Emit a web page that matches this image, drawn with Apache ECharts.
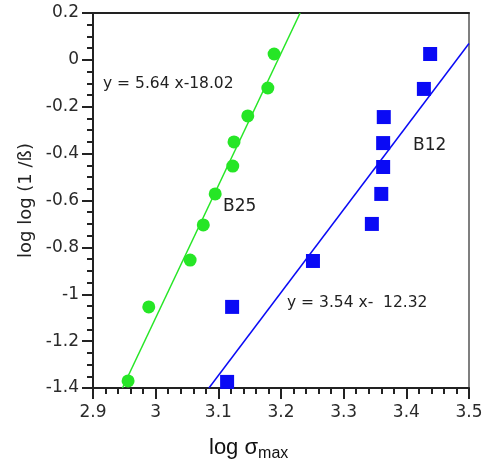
<!DOCTYPE html>
<html>
<head>
<meta charset="utf-8">
<script src="https://cdn.jsdelivr.net/npm/echarts@6/dist/echarts.min.js"></script>
<style>
  html, body { margin: 0; padding: 0; background: #fff; }
  #chart { width: 498px; height: 470px; }
</style>
</head>
<body>
<div id="chart"></div>
<script>
// B25 points (log sigma_max, log log (1/S))
const b25X = [2.956, 2.989, 3.055, 3.076, 3.095, 3.123, 3.125, 3.147, 3.179, 3.189];
const b25Y = [-1.37, -1.054, -0.854, -0.704, -0.572, -0.453, -0.350, -0.239, -0.120, 0.025];
// B12 points
const b12X = [3.114, 3.122, 3.251, 3.345, 3.360, 3.363, 3.363, 3.364, 3.428, 3.438];
const b12Y = [-1.374, -1.054, -0.858, -0.700, -0.572, -0.457, -0.355, -0.244, -0.124, 0.025];
// fitted lines, end points
const b25Fit = [[2.947, -1.4], [3.2305, 0.2]];
const b12Fit = [[3.085, -1.4], [3.5, 0.07]];

const green = '#26e626';
const blue = '#0a0af5';
const font = 'DejaVu Sans';

const zip = (xs, ys) => xs.map((x, i) => [x, ys[i]]);

const chart = echarts.init(document.getElementById('chart'));

const axisLine = { show: true, onZero: false, lineStyle: { color: '#222', width: 2 } };

chart.setOption({
    animation: false,
    backgroundColor: '#fff',
    grid: { left: 93, right: 29, top: 13, bottom: 82, containLabel: false },
    xAxis: [{
        type: 'value', min: 2.9, max: 3.5, interval: 0.1,
        axisLine: axisLine,
        axisTick: { show: true, length: 11, lineStyle: { color: '#222', width: 2 } },
        minorTick: { show: true, splitNumber: 5, length: 6, lineStyle: { color: '#222', width: 2 } },
        axisLabel: { color: '#2a2a2a', fontFamily: font, fontSize: 17, margin: 16 },
        splitLine: { show: false }
    }, {
        type: 'value', position: 'top', min: 2.9, max: 3.5,
        axisLine: axisLine, axisTick: { show: false }, axisLabel: { show: false }, splitLine: { show: false }
    }],
    yAxis: [{
        type: 'value', min: -1.4, max: 0.2, interval: 0.2,
        name: 'log log (1 /ß)', nameLocation: 'middle', nameGap: 57,
        nameTextStyle: { color: '#222', fontFamily: font, fontSize: 18 },
        axisLine: axisLine,
        axisTick: { show: true, length: 11, lineStyle: { color: '#222', width: 2 } },
        minorTick: { show: true, splitNumber: 4, length: 6, lineStyle: { color: '#222', width: 2 } },
        axisLabel: { color: '#2a2a2a', fontFamily: font, fontSize: 17, margin: 14 },
        splitLine: { show: false }
    }, {
        type: 'value', position: 'right', min: -1.4, max: 0.2,
        axisLine: { show: true, onZero: false, lineStyle: { color: '#555', width: 1.5 } },
        axisTick: { show: false }, axisLabel: { show: false }, splitLine: { show: false }
    }],
    series: [
        {
            name: 'B25 fit', type: 'line', data: b25Fit, symbol: 'none',
            lineStyle: { color: green, width: 1.5 }, z: 2
        },
        {
            name: 'B12 fit', type: 'line', data: b12Fit, symbol: 'none',
            lineStyle: { color: blue, width: 1.5 }, z: 2
        },
        {
            name: 'B25', type: 'scatter', data: zip(b25X, b25Y),
            symbol: 'circle', symbolSize: 13,
            itemStyle: { color: green, opacity: 1 }, z: 3
        },
        {
            name: 'B12', type: 'scatter', data: zip(b12X, b12Y),
            symbol: 'rect', symbolSize: 14,
            itemStyle: { color: blue, opacity: 1 }, z: 3
        }
    ],
    graphic: [
        { type: 'text', left: 103, top: 76, style: { text: 'y = 5.64 x-18.02', fill: '#222', font: '15.5px "DejaVu Sans"' } },
        { type: 'text', left: 287, top: 295, style: { text: 'y = 3.54 x-  12.32', fill: '#222', font: '15.5px "DejaVu Sans"' } },
        { type: 'text', left: 223, top: 198, style: { text: 'B25', fill: '#222', font: '17px "DejaVu Sans"' } },
        { type: 'text', left: 413, top: 137, style: { text: 'B12', fill: '#222', font: '17px "DejaVu Sans"' } },
        {
            type: 'text', left: 209, top: 437,
            style: {
                text: '{a|log σ}{b|max}',
                fill: '#111',
                rich: {
                    a: { fontFamily: 'Liberation Sans', fontSize: 22, fill: '#111', verticalAlign: 'bottom' },
                    b: { fontFamily: 'Liberation Sans', fontSize: 16, fill: '#111', verticalAlign: 'bottom', padding: [0, 0, -3, 0] }
                }
            }
        }
    ]
});
</script>
</body>
</html>
